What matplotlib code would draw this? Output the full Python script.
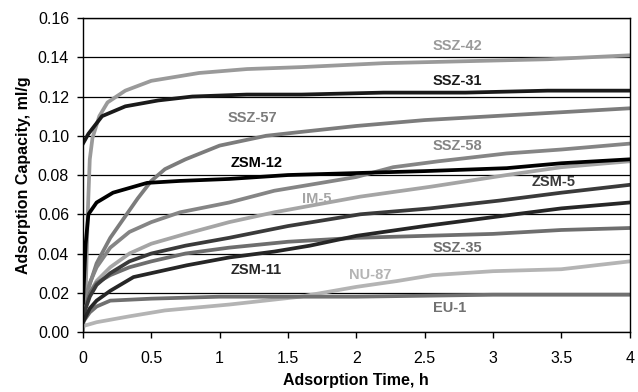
import matplotlib
matplotlib.use('Agg')
import matplotlib.pyplot as plt
from matplotlib.ticker import FormatStrFormatter

plt.rcParams['font.family'] = ['Liberation Sans', 'DejaVu Sans']

# Adsorption time (h) and capacity (ml/g).
SSZ42_T = [0, 0.02, 0.035, 0.05, 0.07, 0.12, 0.18, 0.31, 0.5, 0.85, 1.2, 1.6, 2.2, 2.8, 3.4, 4.0]
SSZ42_V = [0.0, 0.02, 0.06, 0.088, 0.099, 0.110, 0.117, 0.123, 0.128, 0.132, 0.134, 0.135, 0.137, 0.138, 0.139, 0.141]

SSZ31_T = [0, 0.04, 0.14, 0.31, 0.55, 0.8, 1.2, 1.6, 2.2, 2.8, 3.4, 4.0]
SSZ31_V = [0.096, 0.101, 0.110, 0.115, 0.118, 0.120, 0.121, 0.121, 0.122, 0.122, 0.123, 0.123]

SSZ57_T = [0, 0.03, 0.1, 0.2, 0.3, 0.4, 0.5, 0.6, 0.75, 1.0, 1.34, 1.6, 2.0, 2.5, 3.0, 3.5, 4.0]
SSZ57_V = [0.005, 0.02, 0.035, 0.048, 0.058, 0.068, 0.077, 0.083, 0.088, 0.095, 0.100, 0.102, 0.105, 0.108, 0.110, 0.112, 0.114]

SSZ58_T = [0, 0.05, 0.1, 0.2, 0.34, 0.5, 0.71, 1.07, 1.4, 2.0, 2.27, 2.6, 3.1, 3.5, 4.0]
SSZ58_V = [0.01, 0.025, 0.033, 0.043, 0.051, 0.056, 0.061, 0.066, 0.072, 0.079, 0.084, 0.087, 0.091, 0.093, 0.096]

ZSM12_T = [0, 0.02, 0.04, 0.1, 0.22, 0.47, 0.71, 1.07, 1.5, 2.0, 2.5, 3.1, 3.5, 4.0]
ZSM12_V = [0.015, 0.045, 0.060, 0.066, 0.071, 0.076, 0.077, 0.078, 0.080, 0.081, 0.082, 0.0835, 0.086, 0.088]

IM5_T = [0, 0.05, 0.1, 0.2, 0.34, 0.5, 0.75, 1.07, 1.4, 2.03, 2.54, 3.1, 3.5, 4.0]
IM5_V = [0.01, 0.02, 0.026, 0.033, 0.040, 0.045, 0.050, 0.056, 0.061, 0.069, 0.074, 0.080, 0.084, 0.087]

ZSM5_T = [0, 0.05, 0.1, 0.2, 0.34, 0.5, 0.75, 1.07, 1.5, 2.03, 2.54, 3.05, 3.5, 4.0]
ZSM5_V = [0.008, 0.018, 0.024, 0.030, 0.036, 0.040, 0.044, 0.048, 0.054, 0.060, 0.063, 0.067, 0.071, 0.075]

SSZ35_T = [0, 0.05, 0.1, 0.2, 0.34, 0.5, 0.75, 1.07, 1.5, 2.0, 2.5, 3.0, 3.5, 4.0]
SSZ35_V = [0.01, 0.02, 0.025, 0.029, 0.033, 0.036, 0.040, 0.043, 0.046, 0.048, 0.049, 0.050, 0.052, 0.053]

ZSM11_T = [0, 0.05, 0.1, 0.2, 0.37, 0.5, 0.76, 1.07, 1.4, 1.66, 2.0, 2.5, 3.05, 3.5, 4.0]
ZSM11_V = [0.005, 0.012, 0.016, 0.021, 0.028, 0.030, 0.034, 0.038, 0.041, 0.044, 0.049, 0.054, 0.059, 0.063, 0.066]

NU87_T = [0, 0.1, 0.34, 0.6, 1.07, 1.59, 2.0, 2.3, 2.56, 3.0, 3.5, 4.0]
NU87_V = [0.003, 0.005, 0.008, 0.011, 0.014, 0.018, 0.023, 0.026, 0.029, 0.031, 0.032, 0.036]

EU1_T = [0, 0.05, 0.1, 0.2, 0.5, 1.0, 2.0, 3.0, 4.0]
EU1_V = [0.005, 0.010, 0.013, 0.016, 0.017, 0.018, 0.018, 0.019, 0.019]

SERIES = [
    ('SSZ-42', SSZ42_T, SSZ42_V, '#9a9a9a', (2.74, 0.146)),
    ('SSZ-57', SSZ57_T, SSZ57_V, '#7c7c7c', (1.24, 0.109)),
    ('SSZ-58', SSZ58_T, SSZ58_V, '#858585', (2.74, 0.095)),
    ('IM-5', IM5_T, IM5_V, '#a5a5a5', (1.71, 0.068)),
    ('SSZ-35', SSZ35_T, SSZ35_V, '#6e6e6e', (2.74, 0.043)),
    ('NU-87', NU87_T, NU87_V, '#b4b4b4', (2.10, 0.029)),
    ('EU-1', EU1_T, EU1_V, '#707070', (2.68, 0.012)),
    ('ZSM-5', ZSM5_T, ZSM5_V, '#3a3a3a', (3.44, 0.0765)),
    ('ZSM-11', ZSM11_T, ZSM11_V, '#262626', (1.27, 0.0316)),
    ('SSZ-31', SSZ31_T, SSZ31_V, '#1a1a1a', (2.74, 0.128)),
    ('ZSM-12', ZSM12_T, ZSM12_V, '#000000', (1.27, 0.086)),
]

fig = plt.figure(figsize=(6.38, 3.92), dpi=100)
ax = fig.add_axes([0.130, 0.153, 0.857, 0.801])

for name, t, v, color, (lx, ly) in SERIES:
    ax.plot(t, v, color=color, linewidth=2.7, solid_joinstyle='round')
    ax.text(lx, ly, name, color=color, fontsize=10.5, fontweight='bold',
            ha='center', va='center')

ax.set_xlim(0, 4)
ax.set_ylim(0, 0.16)
ax.set_xticks([0, 0.5, 1, 1.5, 2, 2.5, 3, 3.5, 4])
ax.set_xticklabels(['0', '0.5', '1', '1.5', '2', '2.5', '3', '3.5', '4'])
ax.set_yticks([0, 0.02, 0.04, 0.06, 0.08, 0.10, 0.12, 0.14, 0.16])
ax.yaxis.set_major_formatter(FormatStrFormatter('%.2f'))
ax.tick_params(direction='out', length=4, width=1, labelsize=11.5)
ax.tick_params(axis='x', pad=10)
ax.tick_params(axis='y', pad=6)
ax.grid(axis='y', color='black', linewidth=0.9)
ax.set_axisbelow(True)
for spine in ax.spines.values():
    spine.set_linewidth(1)

ax.set_xlabel('Adsorption Time, h', fontsize=11.5, fontweight='bold', labelpad=5)
ax.set_ylabel('Adsorption Capacity, ml/g', fontsize=11.5, fontweight='bold', labelpad=5)

fig.savefig('out.png', dpi=100)
